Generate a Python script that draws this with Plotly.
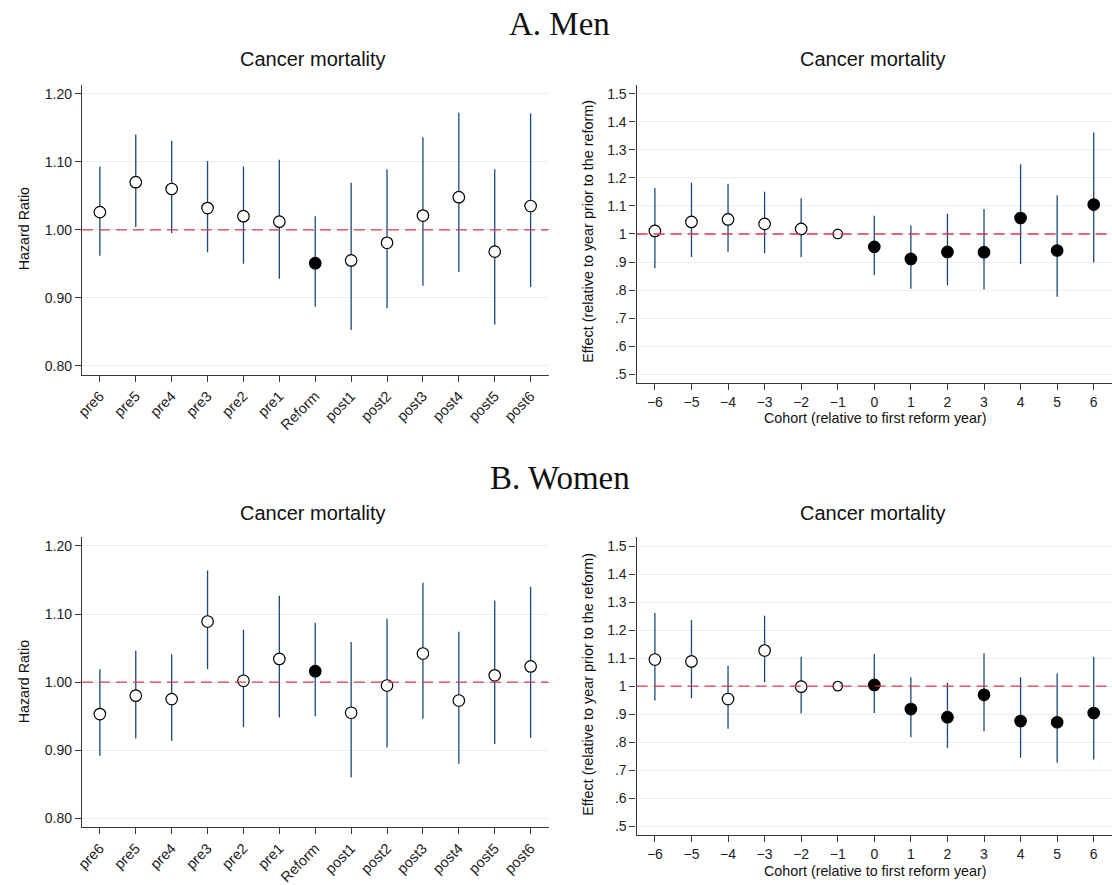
import plotly.graph_objects as go

# ---- data -------------------------------------------------------------
hr_labels = ["pre6", "pre5", "pre4", "pre3", "pre2", "pre1", "Reform",
             "post1", "post2", "post3", "post4", "post5", "post6"]
cohorts = [-6, -5, -4, -3, -2, -1, 0, 1, 2, 3, 4, 5, 6]

men_hr = [1.026, 1.070, 1.060, 1.032, 1.020, 1.012, 0.951, 0.955, 0.981, 1.021, 1.048, 0.968, 1.035]
men_hr_lo = [0.962, 1.004, 0.995, 0.967, 0.950, 0.928, 0.887, 0.853, 0.885, 0.918, 0.938, 0.861, 0.916]
men_hr_hi = [1.093, 1.140, 1.131, 1.101, 1.093, 1.103, 1.020, 1.069, 1.089, 1.136, 1.172, 1.089, 1.171]

men_eff = [1.011, 1.043, 1.052, 1.036, 1.018, 1.000, 0.954, 0.911, 0.936, 0.935, 1.057, 0.941, 1.105]
men_eff_lo = [0.878, 0.918, 0.937, 0.931, 0.917, 1.000, 0.854, 0.805, 0.817, 0.802, 0.893, 0.776, 0.898]
men_eff_hi = [1.164, 1.183, 1.179, 1.151, 1.127, 1.000, 1.065, 1.030, 1.072, 1.089, 1.249, 1.138, 1.362]

women_hr = [0.953, 0.980, 0.975, 1.089, 1.002, 1.034, 1.016, 0.955, 0.995, 1.042, 0.973, 1.010, 1.023]
women_hr_lo = [0.892, 0.917, 0.914, 1.019, 0.934, 0.948, 0.950, 0.860, 0.904, 0.946, 0.880, 0.909, 0.918]
women_hr_hi = [1.019, 1.046, 1.041, 1.164, 1.077, 1.127, 1.087, 1.059, 1.093, 1.146, 1.074, 1.120, 1.140]

women_eff = [1.095, 1.088, 0.954, 1.127, 0.998, 1.000, 1.004, 0.918, 0.889, 0.969, 0.875, 0.871, 0.904]
women_eff_lo = [0.949, 0.957, 0.848, 1.014, 0.902, 1.000, 0.904, 0.817, 0.779, 0.839, 0.744, 0.726, 0.738]
women_eff_hi = [1.261, 1.236, 1.073, 1.251, 1.105, 1.000, 1.115, 1.032, 1.012, 1.117, 1.032, 1.045, 1.105]

hr_ticks = [0.80, 0.90, 1.00, 1.10, 1.20]
eff_ticks = [0.5, 0.6, 0.7, 0.8, 0.9, 1.0, 1.1, 1.2, 1.3, 1.4, 1.5]
eff_tick_text = [".5", ".6", ".7", ".8", ".9", "1", "1.1", "1.2", "1.3", "1.4", "1.5"]

# ---- styling ----------------------------------------------------------
W, H = 1112, 885
SANS = "Liberation Sans, Arial, sans-serif"
SERIF = "Liberation Serif, DejaVu Serif, serif"
CI_COLOR = "#1c4a78"
REF_COLOR = "#d93a4b"
GRID = "#e8f0f1"
AXIS = "#3a3a3a"


def px_x(p):
    return p / W


def px_y(p):
    return 1 - p / H


fig = go.Figure()


def add_panel(idx, x, est, lo, hi, filled, ref_idx=None):
    sfx = "" if idx == 1 else str(idx)
    err_up = [h - e for h, e in zip(hi, est)]
    err_dn = [e - l for e, l in zip(est, lo)]
    fills = ["black" if f else "white" for f in filled]
    sizes = [9.5 if (ref_idx is not None and i == ref_idx) else 11.5 for i in range(len(est))]
    fig.add_trace(go.Scatter(
        x=x, y=est, mode="markers",
        xaxis="x" + sfx, yaxis="y" + sfx,
        marker=dict(symbol="circle", size=sizes, color=fills, opacity=1,
                    line=dict(color="black", width=1.2)),
        error_y=dict(type="data", symmetric=False, array=err_up,
                     arrayminus=err_dn, color=CI_COLOR, thickness=1.3, width=0),
        showlegend=False, hoverinfo="x+y",
    ))
    # reference line at 1
    fig.add_shape(type="line", xref=f"x{sfx} domain", yref=f"y{sfx}",
                  x0=0, x1=1, y0=1, y1=1,
                  line=dict(color=REF_COLOR, width=1.4, dash="11px,6px"),
                  layer="above")


# hazard-ratio panels: only the reform cohort is filled
hr_filled = [lab == "Reform" for lab in hr_labels]
# event-study panels: reform year onwards is filled
eff_filled = [c >= 0 for c in cohorts]

add_panel(1, hr_labels, men_hr, men_hr_lo, men_hr_hi, hr_filled)
add_panel(2, cohorts, men_eff, men_eff_lo, men_eff_hi, eff_filled, ref_idx=5)
add_panel(3, hr_labels, women_hr, women_hr_lo, women_hr_hi, hr_filled)
add_panel(4, cohorts, women_eff, women_eff_lo, women_eff_hi, eff_filled, ref_idx=5)

common_axis = dict(showline=True, linecolor=AXIS, linewidth=1.3, ticks="outside",
                   ticklen=6, tickcolor=AXIS, tickwidth=1.2, zeroline=False,
                   tickfont=dict(family=SANS, size=14, color="#222"))

hr_x = dict(common_axis, type="category", range=[-0.5, 12.5], showgrid=False,
            tickangle=-45, tickfont=dict(family=SANS, size=14.5, color="#222"))
eff_x = dict(common_axis, range=[-6.5, 6.5], showgrid=False,
             tickvals=cohorts,
             ticktext=[str(c).replace("-", "\u2212") for c in cohorts])
hr_y = dict(common_axis, range=[0.787, 1.213], tickvals=hr_ticks, tickformat=".2f",
            showgrid=True, gridcolor=GRID, gridwidth=1)
eff_y = dict(common_axis, range=[0.468, 1.532], tickvals=eff_ticks,
             ticktext=eff_tick_text, showgrid=True, gridcolor=GRID, gridwidth=1)

fig.update_layout(
    width=W, height=H,
    margin=dict(l=0, r=0, t=0, b=0),
    paper_bgcolor="white", plot_bgcolor="white",
    xaxis=dict(hr_x, domain=[px_x(75.4), px_x(545)], anchor="y"),
    yaxis=dict(hr_y, domain=[px_y(375.7), px_y(85)], anchor="x"),
    xaxis2=dict(eff_x, domain=[px_x(633.6), px_x(1112)], anchor="y2"),
    yaxis2=dict(eff_y, domain=[px_y(384), px_y(85)], anchor="x2"),
    xaxis3=dict(hr_x, domain=[px_x(75.4), px_x(545)], anchor="y3"),
    yaxis3=dict(hr_y, domain=[px_y(829), px_y(538.3)], anchor="x3"),
    xaxis4=dict(eff_x, domain=[px_x(633.6), px_x(1112)], anchor="y4"),
    yaxis4=dict(eff_y, domain=[px_y(837), px_y(538.3)], anchor="x4"),
)

annotations = []


def text(x, y, s, size, family=SANS, angle=0):
    annotations.append(dict(xref="paper", yref="paper", x=px_x(x), y=px_y(y),
                            text=s, showarrow=False, textangle=angle,
                            xanchor="center", yanchor="middle",
                            font=dict(family=family, size=size, color="#111")))


text(556, 24, "A. Men", 33, SERIF)
text(557, 479, "B. Women", 33, SERIF)
text(308, 59, "Cancer mortality", 20)
text(871, 59, "Cancer mortality", 20)
text(308, 514, "Cancer mortality", 20)
text(871, 514, "Cancer mortality", 20)
text(18, 229, "Hazard Ratio", 14.3, angle=-90)
text(18, 683, "Hazard Ratio", 14.3, angle=-90)
text(585, 232, "Effect (relative to year prior to the reform)", 14.4, angle=-90)
text(585, 686, "Effect (relative to year prior to the reform)", 14.4, angle=-90)
text(873, 419, "Cohort (relative to first reform year)", 14.3)
text(873, 873, "Cohort (relative to first reform year)", 14.3)

fig.update_layout(annotations=annotations)

fig.write_html("out.html")
